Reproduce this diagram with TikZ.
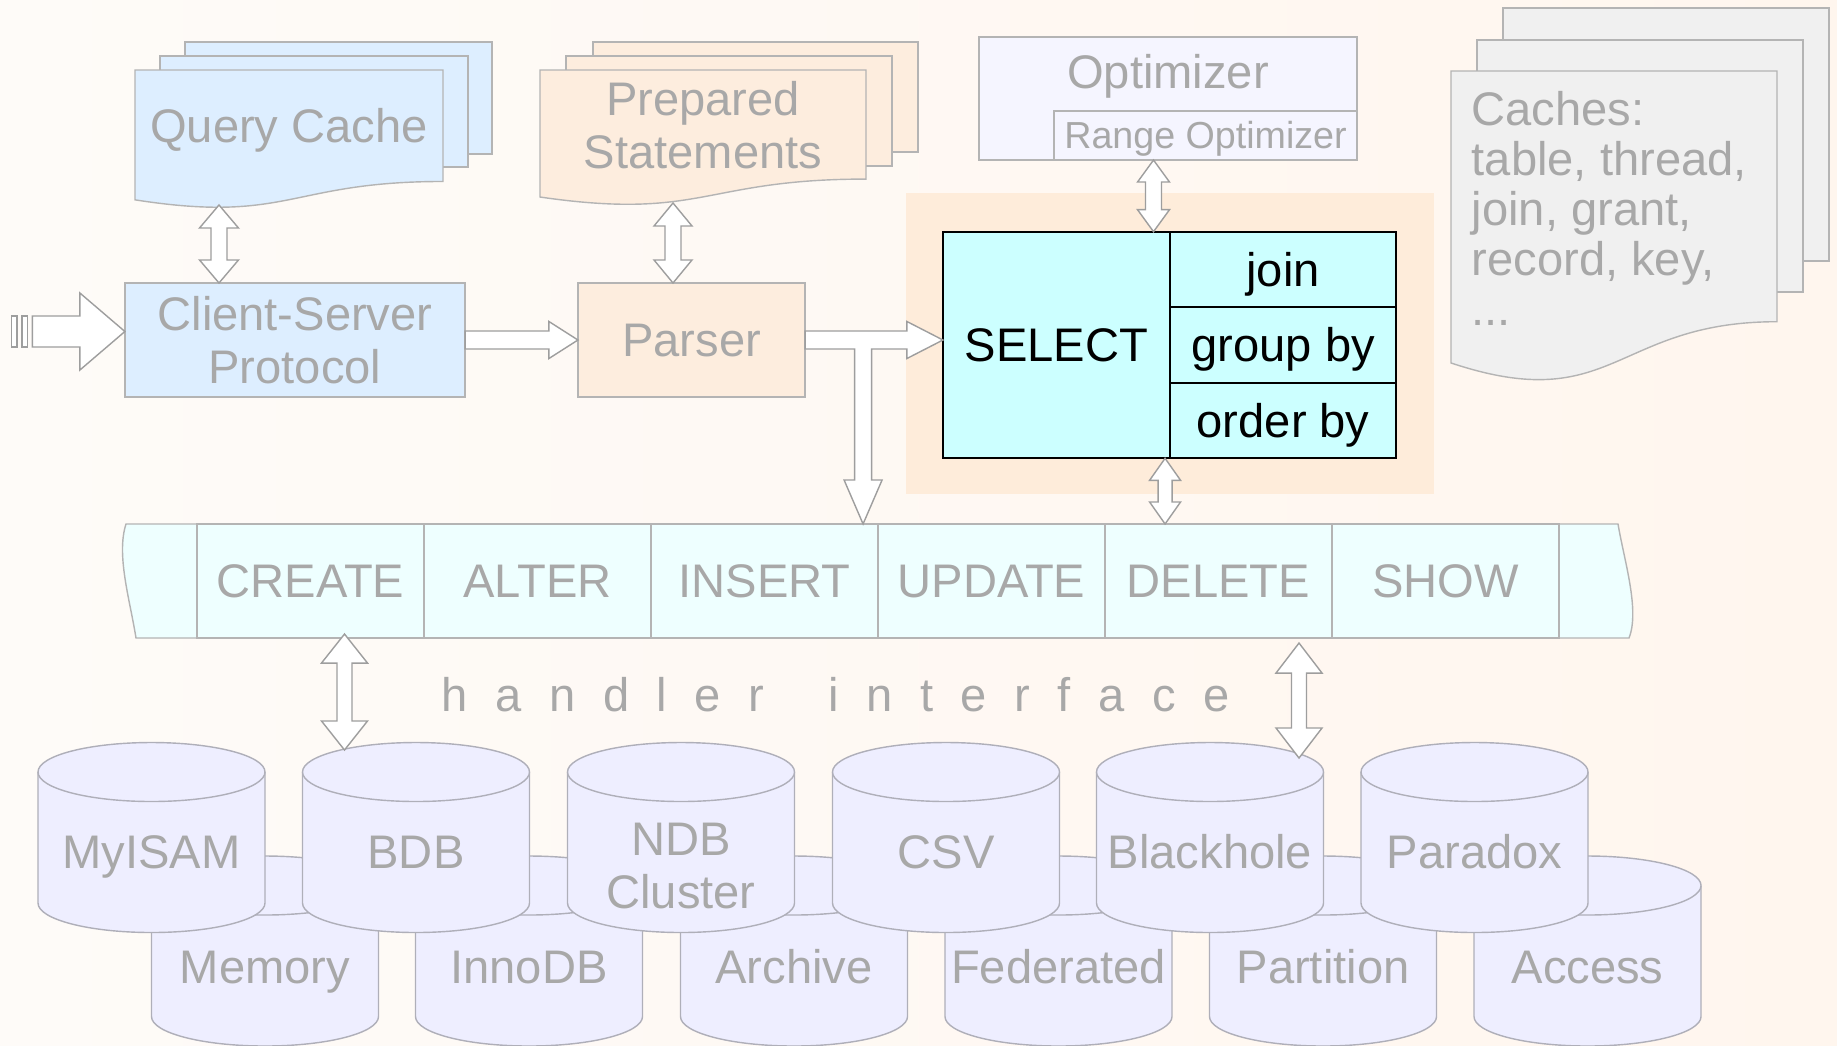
\documentclass[tikz,border=0pt]{standalone}
\usepackage{fontspec}
\setmainfont{Liberation Sans}
\newfontfamily\trackedfont[LetterSpace=58.5]{Liberation Sans}
\usetikzlibrary{calc}

\definecolor{bgcream}{RGB}{255,246,238}
\definecolor{bgwhite}{RGB}{254,251,248}
\definecolor{txtgray}{RGB}{168,168,168}
\definecolor{linegray}{RGB}{180,180,180}
\definecolor{arrowgray}{RGB}{158,158,158}
\definecolor{cylgray}{RGB}{175,175,185}
\definecolor{qcblue}{RGB}{221,238,255}
\definecolor{peach}{RGB}{253,237,222}
\definecolor{optlav}{RGB}{245,245,255}
\definecolor{cachegray}{RGB}{240,240,240}
\definecolor{barcyan}{RGB}{238,255,255}
\definecolor{selcyan}{RGB}{204,255,255}
\definecolor{cyllav}{RGB}{238,238,255}
\definecolor{glow}{RGB}{254,236,218}

% front sheet of a stack: x1, y1, x2, height, fill
\newcommand{\docsheet}[5]{%
	\filldraw[sheet, fill=#5] (#1,#2) -- (#3,#2) -- (#3,{#2+0.802*#4})
		.. controls ({(#1+#3)/2},{#2+0.802*#4}) and ({(#1+#3)/2},{#2+1.1075*#4}) .. (#1,{#2+0.934*#4}) -- cycle;}

% block arrow with a head at both ends: top, bottom, head half width, shaft half width, head length
\newcommand{\vdblarrow}[5]{%
	\filldraw[blockarrow] (#1) -- ($(#1)+(#3,#5)$) -- ($(#1)+(#4,#5)$) -- ($(#2)+(#4,-#5)$) -- ($(#2)+(#3,-#5)$) -- (#2)
		-- ($(#2)+(-#3,-#5)$) -- ($(#2)+(-#4,-#5)$) -- ($(#1)+(-#4,#5)$) -- ($(#1)+(-#3,#5)$) -- cycle;}

% block arrow pointing right: tail, tip, head half width, shaft half width, head length
\newcommand{\hblockarrow}[5]{%
	\filldraw[blockarrow] ($(#1)+(0,-#4)$) -- ($(#2)+(-#5,-#4)$) -- ($(#2)+(-#5,-#3)$) -- (#2)
		-- ($(#2)+(-#5,#3)$) -- ($(#2)+(-#5,#4)$) -- ($(#1)+(0,#4)$) -- cycle;}

% storage engine drum: centre x, y of the lid
\newcommand{\dbcylinder}[2]{%
	\fill[cyllav] ({#1-113.5},#2) rectangle ({#1+113.5},{#2+131});
	\fill[cyllav] (#1,{#2+131}) ellipse [x radius=113.5, y radius=29.5];
	\draw[cylline] ({#1-113.5},#2) -- ({#1-113.5},{#2+131})
		arc [start angle=180, end angle=0, x radius=113.5, y radius=29.5] -- ({#1+113.5},#2);
	\filldraw[cylline, fill=cyllav] (#1,#2) ellipse [x radius=113.5, y radius=29.5];}

\begin{document}
\begin{tikzpicture}[
				x=0.01cm, y=-0.01cm,
				lbl/.style={
					font=\fontsize{13.4}{15.1}\selectfont,
					text=txtgray,
					align=center
				},
				oneline/.style={
					text height=9.6pt,
					text depth=0pt
				},
				box/.style={
					rectangle,
					draw=linegray, line width=0.4pt,
					inner sep=0pt, outer sep=0pt
				},
				sheet/.style={
					draw=linegray, line width=0.4pt
				},
				cmdcell/.style={
					box, lbl, oneline,
					fill=barcyan,
					minimum width=2.27cm,
					minimum height=1.14cm
				},
				selcell/.style={
					rectangle,
					draw=black, line width=0.5pt,
					fill=selcyan,
					inner sep=0pt, outer sep=0pt,
					font=\fontsize{13.4}{15.1}\selectfont,
					oneline,
					minimum width=2.26cm,
					minimum height=0.755cm
				},
				blockarrow/.style={
					draw=arrowgray, fill=white,
					line width=0.4pt, line join=miter
				},
				cylline/.style={
					draw=cylgray, line width=0.4pt
				}]

			%%% Page and the glow behind the SELECT block
			\fill[left color=bgwhite, right color=bgcream] (0,0) rectangle (1837,1045);
			\useasboundingbox (0,0) rectangle (1837,1045);
			\fill[glow] (906,193) rectangle (1434,494);

			%%% Stacks of sheets
			\filldraw[sheet, fill=qcblue] (185,42) rectangle (492,154);
			\filldraw[sheet, fill=qcblue] (160,56) rectangle (468,167);
			\docsheet{135}{70}{443}{139}{qcblue}
			\node[lbl, oneline] (qcache) at (289,126) {Query Cache};

			\filldraw[sheet, fill=peach] (593,42) rectangle (918,152);
			\filldraw[sheet, fill=peach] (566,56) rectangle (892,166);
			\docsheet{540}{70}{866}{136}{peach}
			\node[lbl] (prepstmt) at (703,125) {Prepared\\Statements};

			\filldraw[sheet, fill=cachegray] (1503,8) rectangle (1829,261);
			\filldraw[sheet, fill=cachegray] (1477,40) rectangle (1803,292);
			\docsheet{1451}{71}{1777}{312.6}{cachegray}
			\node[lbl, align=left, anchor=north west, inner sep=0pt, font=\fontsize{13.4}{14.2}\selectfont] (caches) at (1471,91)
				{Caches:\\table, thread,\\join, grant,\\record, key,\\...};

			%%% Protocol, parser and optimizer
			\node[box, lbl, fill=qcblue, minimum width=3.4cm, minimum height=1.14cm] (cliserv) at (295,340) {Client-Server\\Protocol};
			\node[box, lbl, oneline, fill=peach, minimum width=2.27cm, minimum height=1.14cm] (parser) at (691.5,340) {Parser};

			\node[box, fill=optlav, minimum width=3.78cm, minimum height=1.23cm] (optim) at (1168,98.5) {};
			\node[lbl, oneline] (optimtext) at ($(optim.north)+(0,35)$) {Optimizer};
			\node[box, lbl, text height=7.65pt, text depth=0pt, fill=optlav, font=\fontsize{10.7}{12.5}\selectfont,
				minimum width=3.03cm, minimum height=0.49cm, anchor=south east] (rangeopt) at (optim.south east) {Range Optimizer};

			%%% SELECT with its parts
			\node[selcell, minimum width=2.27cm, minimum height=2.265cm] (select) at (1056.5,345) {SELECT};
			\node[selcell, anchor=north west] (join) at (select.north east) {join};
			\node[selcell, anchor=north] (groupby) at (join.south) {group by};
			\node[selcell, anchor=north] (orderby) at (groupby.south) {order by};

			%%% Statement bar
			\filldraw[sheet, fill=barcyan] (126,524) -- (1618,524) .. controls (1624,560) and (1640,610) .. (1629,638)
				-- (136,638) .. controls (130,600) and (116,555) .. (126,524) -- cycle;
			\foreach [count=\i] \cmd in {CREATE, ALTER, INSERT, UPDATE, DELETE, SHOW} {
				\node[cmdcell] (cmd\cmd) at ({197+227*(\i-0.5)},581) {\cmd};
			};

			\node[lbl, anchor=base west, inner sep=0pt, font=\trackedfont\fontsize{13.4}{15.1}\selectfont] (handler) at (441,711)
				{handler\hspace{0.64cm}interface};

			%%% Storage engines, back row first
			\foreach \cx/\eng in {265/Memory, 529/InnoDB, 794/Archive, 1058.5/Federated, 1323/Partition, 1587.5/Access} {
				\dbcylinder{\cx}{885.5}
				\node[lbl, oneline] (cyl\eng) at (\cx,967) {\eng};
			};
			\foreach \cx/\eng in {151.5/MyISAM, 416/BDB, 681/NDB, 946/CSV, 1210/Blackhole, 1474.5/Paradox} {
				\dbcylinder{\cx}{772}
			};
			\foreach \cx/\eng in {151.5/MyISAM, 416/BDB, 946/CSV, 1210/Blackhole, 1474.5/Paradox} {
				\node[lbl, oneline] (cyl\eng) at (\cx,852) {\eng};
			};
			\node[lbl] (cylNDB) at (681,866) {NDB\\Cluster};

			%%% Block arrows
			\coordinate (intip) at ($(cliserv.west)+(0,-8.5)$);
			\coordinate (intail) at ($(intip)+(-92.5,0)$);
			\filldraw[blockarrow] ($(intip)+(-113.5,-15.5)$) rectangle ($(intip)+(-108,15.5)$);
			\filldraw[blockarrow] ($(intip)+(-103,-15.5)$) rectangle ($(intip)+(-97.5,15.5)$);
			\hblockarrow{intail}{intip}{38.5}{15.5}{45}

			\hblockarrow{cliserv.east}{parser.west}{18.5}{9}{29}

			\coordinate (seltip) at (select.west |- parser.east);
			\coordinate (downtip) at ($(cmdINSERT.north east)+(-15,0)$);
			\coordinate (downfork) at (downtip |- parser.east);
			\filldraw[blockarrow] ($(parser.east)+(0,-9)$) -- ($(seltip)+(-36,-9)$) -- ($(seltip)+(-36,-18.5)$) -- (seltip)
				-- ($(seltip)+(-36,18.5)$) -- ($(seltip)+(-36,9)$) -- ($(downfork)+(8.5,9)$) -- ($(downtip)+(8.5,-44)$)
				-- ($(downtip)+(19,-44)$) -- (downtip) -- ($(downtip)+(-19,-44)$) -- ($(downtip)+(-8.5,-44)$)
				-- ($(downfork)+(-8.5,9)$) -- ($(parser.east)+(0,9)$) -- cycle;

			\coordinate (qcfoot) at (219,205);
			\coordinate (qcend) at (qcfoot |- cliserv.north);
			\vdblarrow{qcfoot}{qcend}{19.5}{8}{23}

			\coordinate (psfoot) at (673,203);
			\coordinate (psend) at (psfoot |- parser.north);
			\vdblarrow{psfoot}{psend}{19}{8}{23}

			\coordinate (optfoot) at ($(optim.south)+(-14.5,0)$);
			\coordinate (optend) at (optfoot |- select.north);
			\vdblarrow{optfoot}{optend}{16}{8}{22}

			\coordinate (selfoot) at ($(select.south east)+(-5,0)$);
			\coordinate (selend) at (selfoot |- cmdDELETE.north);
			\vdblarrow{selfoot}{selend}{15.5}{7}{22}

			\coordinate (createfoot) at ($(cmdCREATE.south)+(34,-4)$);
			\coordinate (bdbtop) at (344.5,750);
			\vdblarrow{createfoot}{bdbtop}{23}{7.5}{29}

			\coordinate (deletefoot) at ($(cmdDELETE.south)+(80.5,5)$);
			\coordinate (blackholetop) at (1299,758);
			\vdblarrow{deletefoot}{blackholetop}{23}{7.5}{30}

		\end{tikzpicture}
\end{document}
